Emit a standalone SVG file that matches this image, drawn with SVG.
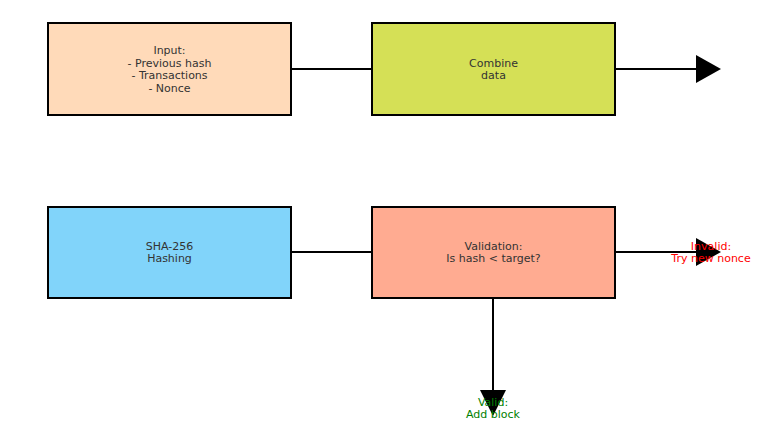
<svg xmlns="http://www.w3.org/2000/svg" width="768" height="428" viewBox="0 0 768 428">
<style>
.box{stroke:#000;stroke-width:2}
.t{font-family:"DejaVu Sans",sans-serif;font-size:11px;fill:#333;text-anchor:middle}
.c{stroke:#000;stroke-width:2;fill:none}
.lbl{font-family:"DejaVu Sans",sans-serif;font-size:11px;text-anchor:middle}
</style>
<rect width="768" height="428" fill="#fff"/>
<g id="connectors">
<line class="c" x1="291" y1="69" x2="372" y2="69"/>
<line class="c" x1="615" y1="69" x2="698" y2="69"/>
<polygon points="696,55 721,69 696,83" fill="#000"/>
<line class="c" x1="291" y1="252" x2="372" y2="252"/>
<line class="c" x1="615" y1="252" x2="698" y2="252"/>
<polygon points="696,238 721,252 696,266" fill="#000"/>
<line class="c" x1="493" y1="298" x2="493" y2="392"/>
<polygon points="480,390 506,390 493,416" fill="#000"/>
</g>
<g id="input">
<rect class="box" x="48" y="23" width="243" height="92" fill="#FFDAB9"/>
<text class="t" x="169.5" y="54">Input:</text>
<text class="t" x="169.5" y="66.5">- Previous hash</text>
<text class="t" x="169.5" y="79">- Transactions</text>
<text class="t" x="169.5" y="91.5">- Nonce</text>
</g>
<g id="combine">
<rect class="box" x="372" y="23" width="243" height="92" fill="#D5E056"/>
<text class="t" x="493.5" y="66.5">Combine</text>
<text class="t" x="493.5" y="79">data</text>
</g>
<g id="sha">
<rect class="box" x="48" y="207" width="243" height="91" fill="#81D4FA"/>
<text class="t" x="169.5" y="249.5">SHA-256</text>
<text class="t" x="169.5" y="262">Hashing</text>
</g>
<g id="validation">
<rect class="box" x="372" y="207" width="243" height="91" fill="#FFAB91"/>
<text class="t" x="493.5" y="249.5">Validation:</text>
<text class="t" x="493.5" y="262">Is hash &lt; target?</text>
</g>
<g id="labels">
<text class="lbl" fill="#FF0000" x="711" y="249.5">Invalid:</text>
<text class="lbl" fill="#FF0000" x="711" y="262">Try new nonce</text>
<text class="lbl" fill="#008000" x="493" y="405.5">Valid:</text>
<text class="lbl" fill="#008000" x="493" y="418">Add block</text>
</g>
</svg>
